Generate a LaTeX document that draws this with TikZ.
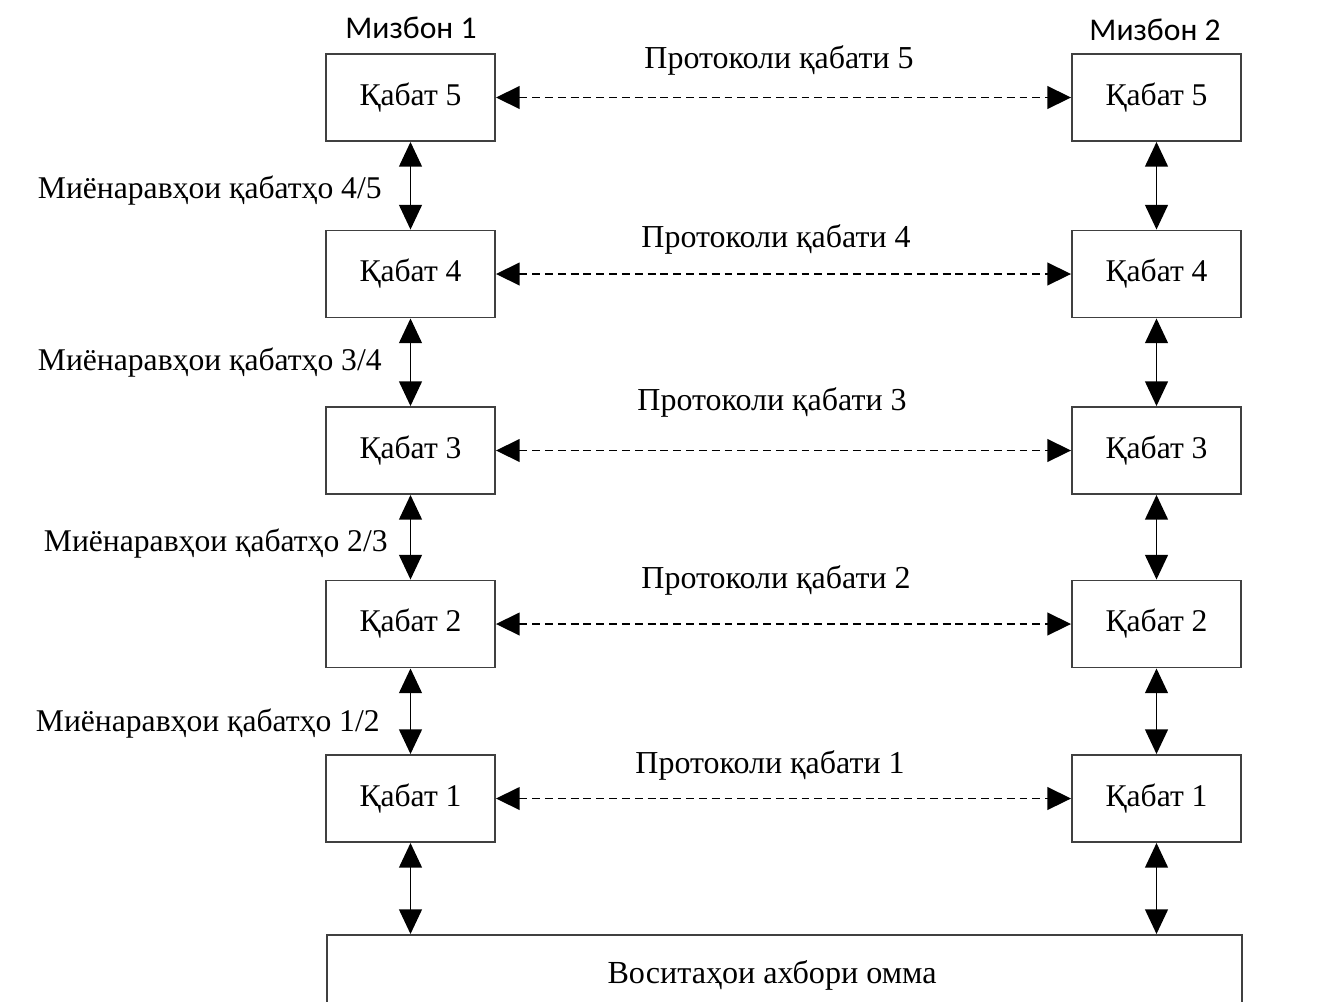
\documentclass[tikz,border=0pt]{standalone}
\usepackage{fontspec}
\setmainfont{Liberation Serif}
\newfontfamily\hostfont{Carlito}
\usetikzlibrary{arrows.meta}

\begin{document}
\begin{tikzpicture}[x=0.02cm,y=-0.02cm]
    \tikzset{layerbox/.style={draw=black!75,line width=1.1pt,minimum width=169*0.02cm,minimum height=87*0.02cm,inner sep=0pt,font=\fontsize{18}{20}\selectfont}}
    \tikzset{updown/.style={{Triangle[length=14pt,width=13pt]}-{Triangle[length=14pt,width=13pt]},line width=0.8pt}}
    \tikzset{peer/.style={{Triangle[length=13.5pt,width=13pt]}-{Triangle[length=13.5pt,width=13pt]},line width=0.8pt,dash pattern=on 4.5pt off 2.8pt}}
    \tikzset{protolabel/.style={font=\fontsize{18.2}{20}\selectfont,inner sep=0pt}}
    \tikzset{ifacelabel/.style={font=\fontsize{18}{20}\selectfont,inner sep=0pt,anchor=east}}
    \clip (0,0) rectangle (1334,1001);
    \fill[white] (0,0) rectangle (1334,1001);
    % host 1
    \node[font=\hostfont\fontsize{18}{20}\selectfont] (host1) at (411,28) {Мизбон 1};
    \node[layerbox] (L5) at (410.5,97.5) {Қабат 5};
    \node[layerbox] (L4) at (410.5,274) {Қабат 4};
    \node[layerbox] (L3) at (410.5,450.5) {Қабат 3};
    \node[layerbox] (L2) at (410.5,624) {Қабат 2};
    \node[layerbox] (L1) at (410.5,798.5) {Қабат 1};
    % host 2
    \node[font=\hostfont\fontsize{18}{20}\selectfont] (host2) at (1155,30) {Мизбон 2};
    \node[layerbox] (R5) at (1156.5,97.5) {Қабат 5};
    \node[layerbox] (R4) at (1156.5,274) {Қабат 4};
    \node[layerbox] (R3) at (1156.5,450.5) {Қабат 3};
    \node[layerbox] (R2) at (1156.5,624) {Қабат 2};
    \node[layerbox] (R1) at (1156.5,798.5) {Қабат 1};
    % medium
    \node[draw=black!75,line width=1.1pt,minimum width=915*0.02cm,minimum height=130*0.02cm,anchor=north west] (media) at (326,934) {};
    \node[font=\fontsize{18.3}{20}\selectfont] (medialabel) at (772,975) {Воситаҳои ахбори омма};
    % interfaces
    \draw[updown] (L5) -- (L4);
    \draw[updown] (L4) -- (L3);
    \draw[updown] (L3) -- (L2);
    \draw[updown] (L2) -- (L1);
    \draw[updown] (L1) -- (L1.south |- media.north);
    \draw[updown] (R5) -- (R4);
    \draw[updown] (R4) -- (R3);
    \draw[updown] (R3) -- (R2);
    \draw[updown] (R2) -- (R1);
    \draw[updown] (R1) -- (R1.south |- media.north);
    \node[ifacelabel] (i45) at (382,191) {Миёнаравҳои қабатҳо 4/5};
    \node[ifacelabel] (i34) at (382,363) {Миёнаравҳои қабатҳо 3/4};
    \node[ifacelabel] (i23) at (388,544) {Миёнаравҳои қабатҳо 2/3};
    \node[ifacelabel] (i12) at (380,724) {Миёнаравҳои қабатҳо 1/2};
    % peer protocols
    \draw[peer] (L5) -- (R5);
    \draw[peer] (L4) -- (R4);
    \draw[peer] (L3) -- (R3);
    \draw[peer] (L2) -- (R2);
    \draw[peer] (L1) -- (R1);
    \node[protolabel] (p5) at (779,60) {Протоколи қабати 5};
    \node[protolabel] (p4) at (776,239) {Протоколи қабати 4};
    \node[protolabel] (p3) at (772,402) {Протоколи қабати 3};
    \node[protolabel] (p2) at (776,580) {Протоколи қабати 2};
    \node[protolabel] (p1) at (770,765) {Протоколи қабати 1};
\end{tikzpicture}
\end{document}
